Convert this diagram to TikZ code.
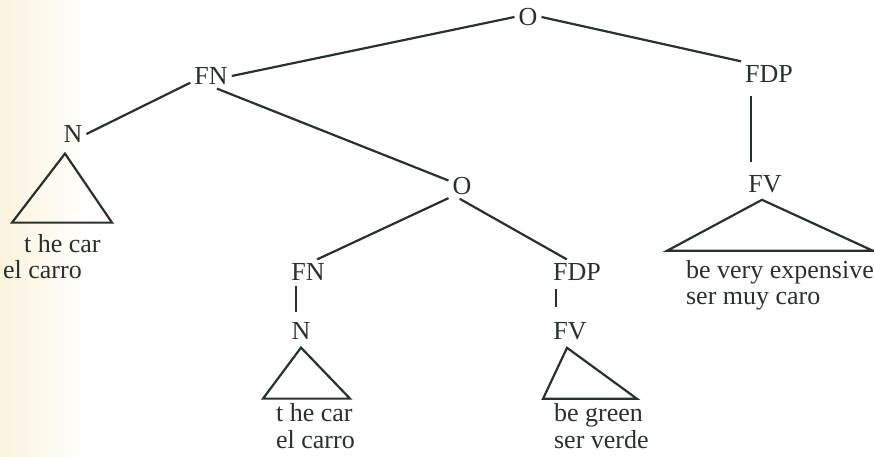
\documentclass[tikz,border=0pt]{standalone}
\usepackage{fontspec}
\setmainfont{Liberation Serif}
\newfontfamily\treefont{Liberation Serif}

\definecolor{ink}{RGB}{40,50,45}
\definecolor{paper}{RGB}{250,243,222}

\begin{document}
\begin{tikzpicture}[x=1pt,y=1pt,line width=2.2pt,color=ink,
  every node/.style={text=ink,inner sep=3pt,font=\treefont\fontsize{26pt}{26pt}\selectfont},
  gloss/.style={anchor=base west,inner sep=0pt}]

\useasboundingbox (0,0) rectangle (874,457);
\shade[left color=paper,right color=white] (0,0) rectangle (90,457);

% labels of the tree
\node (o1) at (528,440) {O};
\node (fn1) at (211,381) {FN};
\node (fdp1) at (769,383) {FDP};
\node (n1) at (73,323) {N};
\node (o2) at (462,271) {O};
\node (fv1) at (765,273) {FV};
\node (fn2) at (308,185) {FN};
\node (fdp2) at (577,185) {FDP};
\node (n2) at (301,126) {N};
\node (fv2) at (570,126) {FV};

% branches
\draw (fn1.east) -- (o1.west);
\draw (o1.east) -- (fdp1.north west);
\draw (fn1.198) -- (n1.east);
\draw (fn1.-65) -- (o2.158);
\draw (o2.222) -- (fn2.54);
\draw (o2.-100) -- (fdp2.129);

% unary branches
\coordinate (s1) at ([xshift=10pt]fdp1.south west);
\draw[shorten <=9pt,shorten >=9pt] (s1) -- (s1 |- fv1.north);
\coordinate (s2) at ([xshift=8.5pt]fn2.south west);
\draw[shorten <=1.5pt,shorten >=6pt] (s2) -- (s2 |- n2.north);
\coordinate (s3) at ([xshift=7pt]fdp2.south west);
\draw[shorten <=4pt,shorten >=11pt] (s3) -- (s3 |- fv2.north);

% triangles
\draw (n1.south) ++(-8,-7) -- ++(-53,-69) -- ++(100,0) -- cycle;
\draw (n2.south) ++(0,-4) -- ++(-38,-51) -- ++(87,0) -- cycle;
\draw (fv2.south) ++(-3,-4) -- ++(-24,-51) -- ++(94,0) -- cycle;
\draw (fv1.south) ++(-3,-3) -- ++(-95,-51) -- ++(206,0) -- cycle;

% words under the triangles
\node[gloss] (g1a) at (23,204) {t he car};
\node[gloss] (g1b) at (2,178) {el carro};
\node[gloss] (g2a) at (275,35) {t he car};
\node[gloss] (g2b) at (275,9) {el carro};
\node[gloss] (g3a) at (553,35) {be green};
\node[gloss] (g3b) at (553,9) {ser verde};
\node[gloss] (g4a) at (685,178) {be very expensive};
\node[gloss] (g4b) at (685,152) {ser muy caro};

\end{tikzpicture}
\end{document}
